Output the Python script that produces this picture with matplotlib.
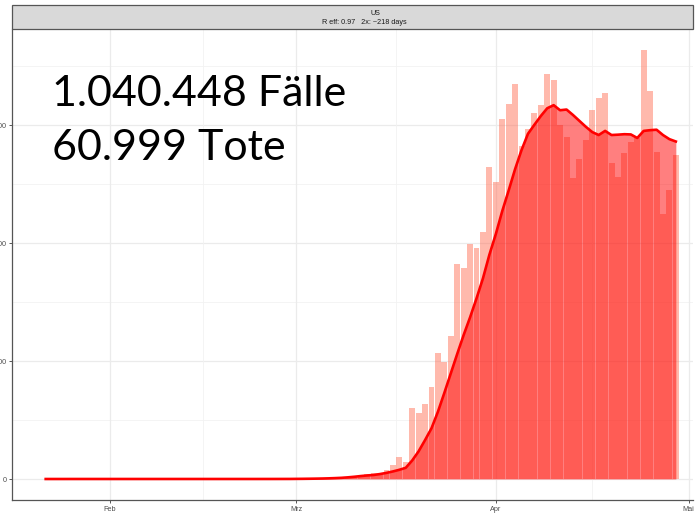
import matplotlib
matplotlib.use('Agg')
import matplotlib.pyplot as plt
import matplotlib.dates as mdates
from matplotlib.patches import Rectangle
import numpy as np
import pandas as pd

# ---------------- data ----------------
start_date = '2020-01-22'
raw_jan = [1, 0, 1, 0, 3, 0, 0, 0, 0, 2]
raw_feb = [1, 0, 3, 0, 1, 0, 0, 0, 0, 0, 1, 0, 1, 0, 0, 0, 0, 0, 0, 0,
           2, 0, 0, 0, 0, 4, 3, 3, 5]
raw_mar = [8, 20, 25, 30, 70, 60, 100, 120, 200, 290, 300, 400, 500, 550,
           780, 1190, 1840, 1400, 5990, 5560, 6350, 7770, 10650, 9880,
           12110, 18180, 17900, 19880, 19540, 20950, 26400]
raw_apr = [25180, 30470, 31820, 33460, 28210, 29620, 30980, 31680, 34280,
           33850, 29980, 28990, 25470, 27160, 28770, 31310, 32250, 32670,
           26740, 25610, 27590, 28570, 28860, 36340, 32860, 27720, 22500,
           24480, 27440]

smooth_jan = [0, 0, 0, 0, 1, 1, 1, 1, 1, 1]
smooth_feb = [1, 1, 1, 1, 1, 1, 1, 1, 1, 1, 1, 1, 1, 1, 1, 1, 1, 1, 1, 1,
              1, 1, 1, 1, 2, 2, 3, 4, 5]
smooth_mar = [10, 15, 22, 30, 40, 55, 75, 100, 140, 190, 250, 300, 340, 420,
              520, 640, 780, 950, 1570, 2350, 3300, 4300, 5700, 7300, 8950,
              10600, 12200, 13700, 15300, 17000, 19000]
smooth_apr = [20750, 22700, 24450, 26260, 27870, 29250, 30020, 30760, 31420,
              31680, 31250, 31310, 30850, 30350, 29850, 29400, 29150, 29500,
              29150, 29180, 29220, 29200, 28900, 29500, 29560, 29600, 29150,
              28800, 28600]

raw_cases = raw_jan + raw_feb + raw_mar + raw_apr
smoothed = smooth_jan + smooth_feb + smooth_mar + smooth_apr
dates = pd.date_range(start_date, periods=len(raw_cases), freq='D')

month_ticks = ['2020-02-01', '2020-03-01', '2020-04-01', '2020-05-01']
month_labels = ['Feb', 'Mrz', 'Apr', 'Mai']
minor_month_ticks = ['2020-01-16 12:00', '2020-02-15 12:00',
                     '2020-03-16 12:00', '2020-04-16 00:00']
y_ticks = [0, 10000, 20000, 30000]
y_minor = [5000, 15000, 25000, 35000]

strip_title = 'US'
strip_sub = 'R eff: 0.97   2x: ~218 days'
headline_cases = '1.040.448 Fälle'
headline_deaths = '60.999 Tote'

# ---------------- figure ----------------
W, H = 696, 517
fig = plt.figure(figsize=(W / 100, H / 100), dpi=100)
fig.patch.set_facecolor('white')

left_px, right_px, top_px, bottom_px = 12, 693, 29, 500
ax = fig.add_axes([left_px / W, (H - bottom_px) / H,
                   (right_px - left_px) / W, (bottom_px - top_px) / H])

feb1 = pd.Timestamp('2020-02-01')
px_per_day = 6.43
x0 = feb1 - pd.Timedelta(days=(110 - left_px) / px_per_day)
x1 = feb1 + pd.Timedelta(days=(right_px - 110) / px_per_day)
ax.set_xlim(x0, x1)
val_per_px = 10000 / 118.0
ax.set_ylim(-(bottom_px - 479) * val_per_px, (479 - top_px) * val_per_px)

# grid
for yv in y_ticks:
    ax.axhline(yv, color='#EBEBEB', lw=0.9, zorder=0)
for yv in y_minor:
    ax.axhline(yv, color='#F2F2F2', lw=0.6, zorder=0)
for d in month_ticks:
    ax.axvline(pd.Timestamp(d), color='#EBEBEB', lw=0.9, zorder=0)
for d in minor_month_ticks:
    ax.axvline(pd.Timestamp(d), color='#F2F2F2', lw=0.6, zorder=0)

# bars and smoothed area
ax.bar(dates, raw_cases, width=0.93, color='#FF6A50', alpha=0.47,
       linewidth=0, zorder=2)
ax.fill_between(dates, 0, smoothed, color='#FF0000', alpha=0.5,
                linewidth=0, zorder=3)
ax.plot(dates, smoothed, color='#FF0000', lw=1.9, zorder=4,
        solid_joinstyle='round')

# axes styling
for s in ['top', 'right']:
    ax.spines[s].set_visible(False)
for s in ['left', 'bottom']:
    ax.spines[s].set_color('#555555')
    ax.spines[s].set_linewidth(0.9)

ax.set_xticks([pd.Timestamp(d) for d in month_ticks])
ax.set_xticklabels(month_labels)
ax.set_yticks(y_ticks)
ax.set_yticklabels([str(v) for v in y_ticks])
ax.tick_params(axis='both', length=2.5, width=0.7, color='#555555',
               labelsize=5.2, labelcolor='#4D4D4D', pad=1.5)
for lab in ax.get_xticklabels() + ax.get_yticklabels():
    lab.set_fontfamily('Liberation Sans')

# strip header
strip_top, strip_bot = 5.5, 28.7
fig.patches.append(Rectangle((left_px / W, (H - strip_bot) / H),
                             (right_px - left_px) / W,
                             (strip_bot - strip_top) / H,
                             transform=fig.transFigure, facecolor='#D9D9D9',
                             edgecolor='#555555', linewidth=0.9, zorder=5))
fig.text(375 / W, 1 - 13.5 / H, strip_title, ha='center', va='center',
         fontsize=5.2, color='#1A1A1A', family='Liberation Sans', zorder=6)
fig.text(364 / W, 1 - 22 / H, strip_sub, ha='center', va='center',
         fontsize=5.2, color='#1A1A1A', family='Liberation Sans', zorder=6)

# headline text
fig.text(52 / W, 1 - 106 / H, headline_cases, ha='left', va='baseline',
         fontsize=31, color='black', family='Lato', zorder=7)
fig.text(52 / W, 1 - 160 / H, headline_deaths, ha='left', va='baseline',
         fontsize=31, color='black', family='Lato', zorder=7)

fig.savefig('out.png', dpi=100, facecolor='white')
